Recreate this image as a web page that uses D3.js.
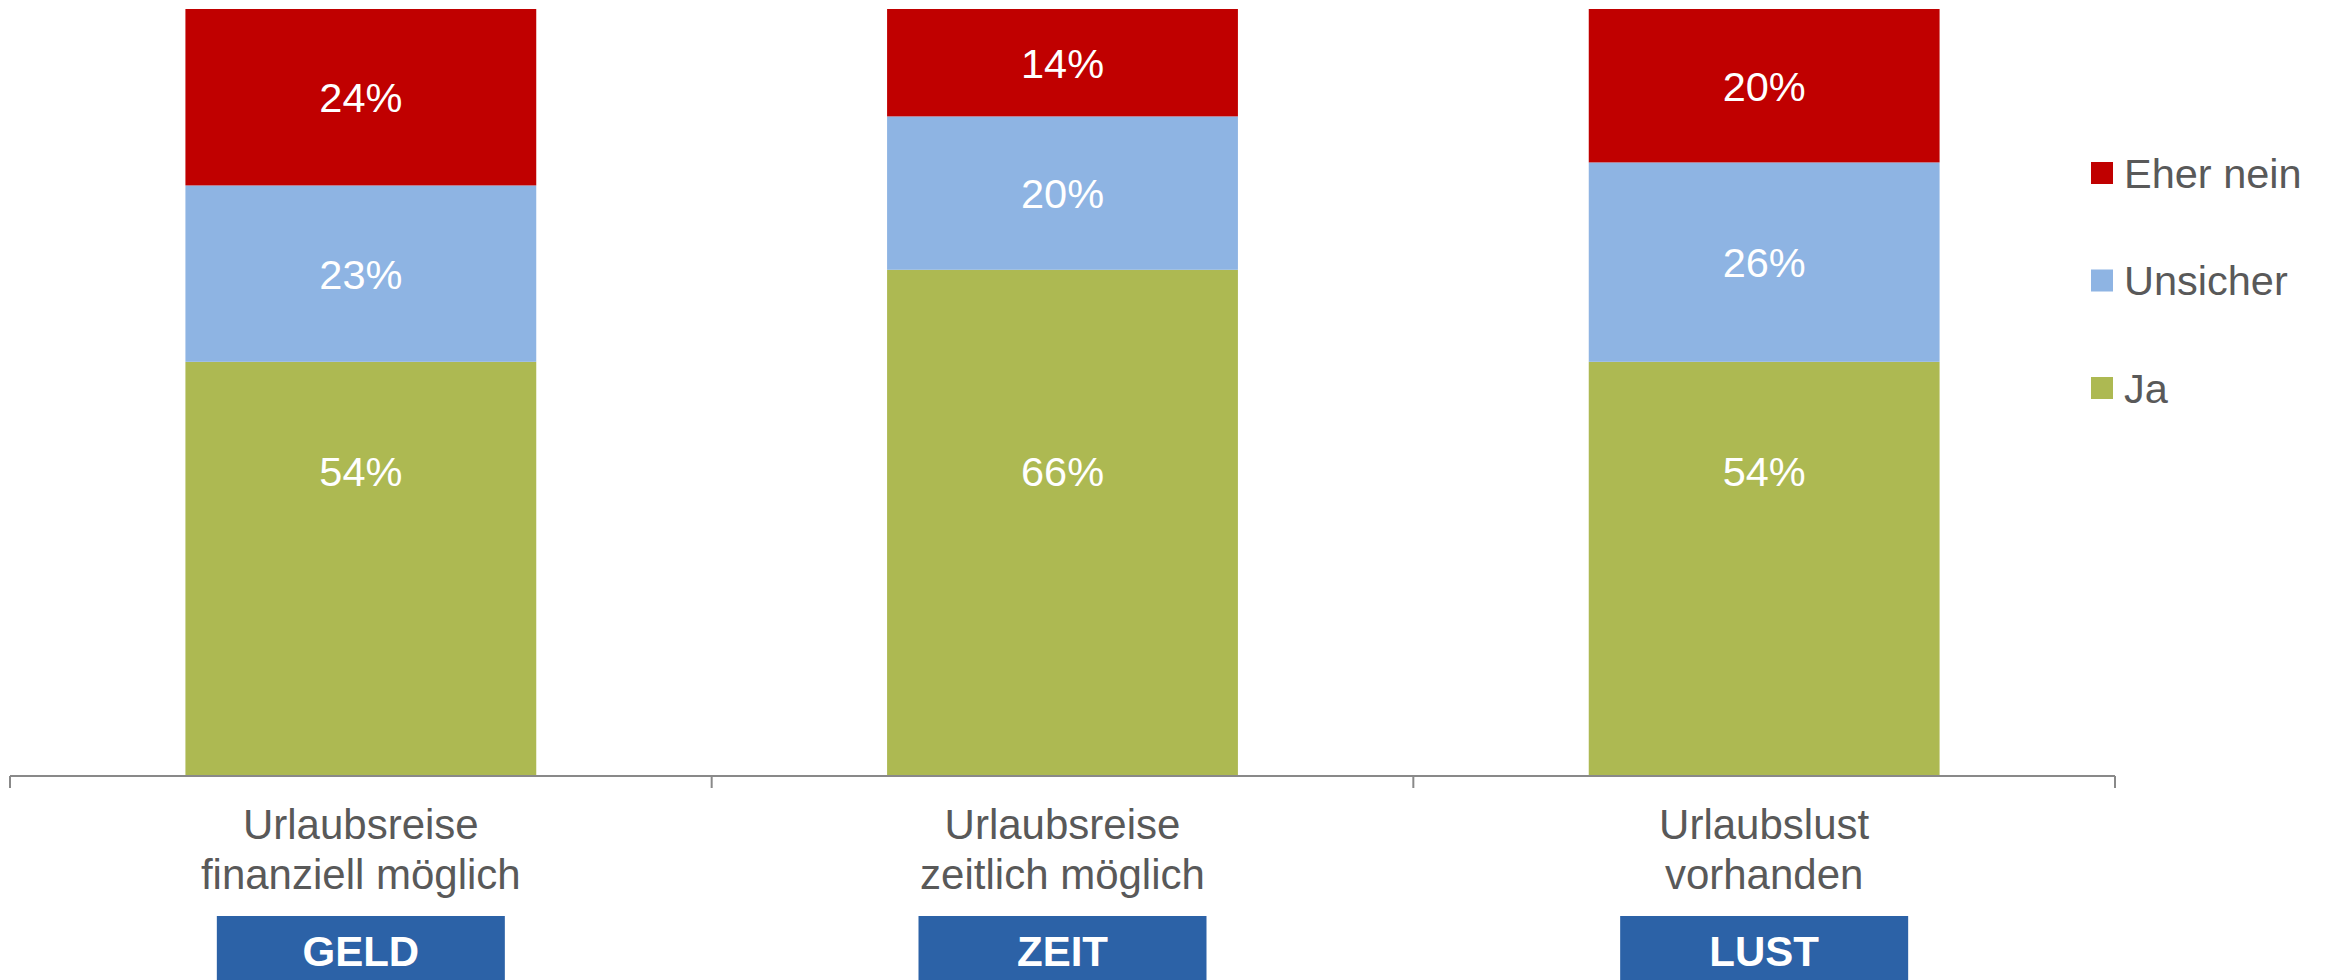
<!DOCTYPE html>
<html>
<head>
<meta charset="utf-8">
<script src="https://cdn.jsdelivr.net/npm/d3@7"></script>
<style>
	html, body { margin: 0; padding: 0; background: #fff; }
	svg { display: block; font-family: "Liberation Sans", Arial, sans-serif; }
</style>
</head>
<body>
<div id="chart"></div>
<script>
// categories (two label lines each) and the badge under each one
var categories = ['reise_geld', 'reise_zeit', 'lust'];
var categoryLines = [
	['Urlaubsreise', 'finanziell möglich'],
	['Urlaubsreise', 'zeitlich möglich'],
	['Urlaubslust', 'vorhanden']
];
var badges = ['GELD', 'ZEIT', 'LUST'];

// series, stacked bottom to top
var seriesNames = ['Ja', 'Unsicher', 'Eher nein'];
var jaValues = [54, 66, 54];
var unsicherValues = [23, 20, 26];
var eherNeinValues = [24, 14, 20];

var seriesColors = ['#adb952', '#8eb4e3', '#c00000'];

var width = 2336,
	height = 980;

var svg = d3.select('#chart')
	.append('svg')
	.attr('width', width)
	.attr('height', height);

var rows = categories.map(function(c, i) {
	return {
		cat: c,
		'Ja': jaValues[i],
		'Unsicher': unsicherValues[i],
		'Eher nein': eherNeinValues[i]
	};
});

var layers = d3.stack().keys(seriesNames)(rows);

var x = d3.scaleBand()
	.domain(categories)
	.range([10, 2115])
	.paddingInner(0.5)
	.paddingOuter(0.25);

// axis max is 100%, anything above is cut off like in the original
var y = d3.scaleLinear()
	.domain([0, 100])
	.range([776, 9]);

var color = d3.scaleOrdinal()
	.domain(seriesNames)
	.range(seriesColors);

var plotTop = y.range()[1],
	plotBottom = y.range()[0];

svg.append('clipPath')
	.attr('id', 'plotClip')
	.append('rect')
	.attr('x', 0)
	.attr('y', plotTop)
	.attr('width', width)
	.attr('height', plotBottom - plotTop);

//////////////////////////////////////////////////
// bars
//////////////////////////////////////////////////
var layer = svg.append('g')
	.attr('clip-path', 'url(#plotClip)')
	.selectAll('g.layer')
	.data(layers)
	.enter().append('g')
	.attr('class', 'layer')
	.attr('fill', function(d) { return color(d.key); });

layer.selectAll('rect')
	.data(function(d) { return d; })
	.enter().append('rect')
	.attr('x', function(d) { return x(d.data.cat); })
	.attr('width', x.bandwidth())
	.attr('y', function(d) { return y(d[1]); })
	.attr('height', function(d) { return y(d[0]) - y(d[1]); });

// value labels: middle of the visible part of each segment,
// the bottom series sits a little higher (as in the source chart)
var jaLabelLevel = 39.7;
layers.forEach(function(l, li) {
	svg.append('g').selectAll('text')
		.data(l)
		.enter().append('text')
		.attr('x', function(d) { return x(d.data.cat) + x.bandwidth() / 2; })
		.attr('y', function(d) {
			if (li === 0) return y(jaLabelLevel);
			var y1 = Math.max(y(d[1]), plotTop);
			return (y(d[0]) + y1) / 2;
		})
		.attr('dy', '0.36em')
		.attr('text-anchor', 'middle')
		.attr('fill', '#fff')
		.style('font-size', '41.5px')
		.text(function(d) { return d.data[l.key] + '%'; });
});

//////////////////////////////////////////////////
// category axis with ticks between the bands
//////////////////////////////////////////////////
var r = x.range();
var boundaries = d3.range(categories.length + 1).map(function(i) {
	return Math.min(r[0] + i * x.step(), r[1]);
});

var axis = svg.append('g').attr('stroke', '#898989').attr('stroke-width', 2);
axis.append('line')
	.attr('x1', r[0]).attr('x2', r[1])
	.attr('y1', plotBottom).attr('y2', plotBottom);
axis.selectAll('line.tick')
	.data(boundaries)
	.enter().append('line')
	.attr('class', 'tick')
	.attr('x1', function(d) { return d; })
	.attr('x2', function(d) { return d; })
	.attr('y1', plotBottom)
	.attr('y2', plotBottom + 12);

// category labels
var catLabel = svg.append('g').selectAll('text')
	.data(categories)
	.enter().append('text')
	.attr('text-anchor', 'middle')
	.attr('fill', '#595959')
	.style('font-size', '42px')
	.attr('y', 839);

catLabel.selectAll('tspan')
	.data(function(d, i) {
		return categoryLines[i].map(function(t) { return {cat: d, text: t}; });
	})
	.enter().append('tspan')
	.attr('x', function(d) { return x(d.cat) + x.bandwidth() / 2; })
	.attr('dy', function(d, i) { return i === 0 ? 0 : 50; })
	.text(function(d) { return d.text; });

// badges
var badgeW = 288;
var badge = svg.append('g').selectAll('g')
	.data(categories)
	.enter().append('g')
	.attr('transform', function(d) {
		return 'translate(' + (x(d) + x.bandwidth() / 2) + ',916)';
	});
badge.append('rect')
	.attr('x', -badgeW / 2)
	.attr('width', badgeW)
	.attr('height', 70)
	.attr('fill', '#2c62a7');
badge.append('text')
	.attr('text-anchor', 'middle')
	.attr('y', 50)
	.attr('fill', '#fff')
	.style('font-size', '42px')
	.style('font-weight', 'bold')
	.text(function(d, i) { return badges[i]; });

//////////////////////////////////////////////////
// legend, top entry is the top of the stack
//////////////////////////////////////////////////
var legendNames = seriesNames.slice().reverse();
var legend = svg.append('g').selectAll('g')
	.data(legendNames)
	.enter().append('g')
	.attr('transform', function(d, i) {
		return 'translate(2091,' + (173 + i * 107.5) + ')';
	});
legend.append('rect')
	.attr('y', -11)
	.attr('width', 22)
	.attr('height', 22)
	.attr('fill', function(d) { return color(d); });
legend.append('text')
	.attr('x', 33)
	.attr('dy', '0.36em')
	.attr('fill', '#595959')
	.style('font-size', '41.5px')
	.text(function(d) { return d; });
</script>
</body>
</html>
